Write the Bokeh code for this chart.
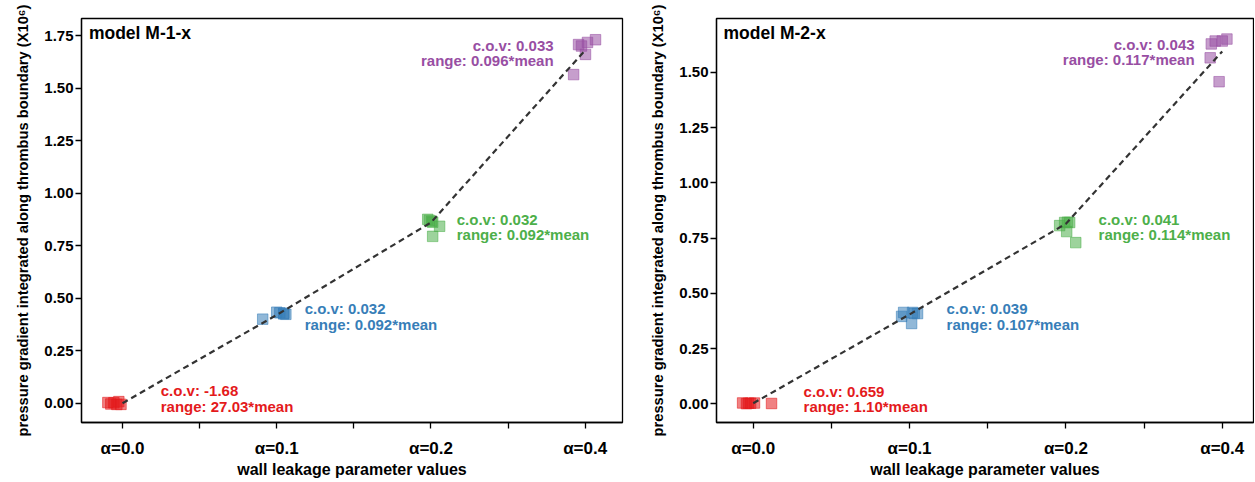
from bokeh.plotting import figure
from bokeh.layouts import row
from bokeh.models import FixedTicker, Range1d, PrintfTickFormatter
from bokeh.embed import file_html
from bokeh.resources import INLINE
from bokeh.core.properties import value

FONT = "Liberation Sans"

categories = ["α=0.0", "α=0.1", "α=0.2", "α=0.4"]
colors = ["#e41a1c", "#377eb8", "#4daf4a", "#984ea3"]
x_label = "wall leakage parameter values"
y_label = "pressure gradient integrated along thrombus boundary (X10⁶)"

# ---- model M-1-x : jitter offsets (around category) and values (x10^6)
m1_title = "model M-1-x"
m1_jitter = [
    [-0.095, -0.076, -0.056, -0.037, -0.024, -0.010],
    [-0.091, 0.000, 0.046, 0.059, 0.020, 0.045],
    [-0.021, 0.011, 0.056, 0.011, -0.010, 0.005],
    [-0.043, -0.024, 0.015, 0.067, 0.002, -0.075],
]
m1_values = [
    [0.003, -0.004, 0.002, -0.006, 0.0075, -0.0058],
    [0.400, 0.433, 0.428, 0.423, 0.430, 0.425],
    [0.875, 0.861, 0.842, 0.794, 0.870, 0.866],
    [1.707, 1.700, 1.717, 1.730, 1.660, 1.564],
]
m1_trend = [0.0, 0.42, 0.86, 1.68]
m1_cov = ["-1.68", "0.032", "0.032", "0.033"]
m1_range = ["27.03", "0.092", "0.092", "0.096"]
m1_yticks = [0.0, 0.25, 0.5, 0.75, 1.0, 1.25, 1.5, 1.75]

# ---- model M-2-x
m2_title = "model M-2-x"
m2_jitter = [
    [-0.068, -0.043, -0.017, 0.008, 0.117, -0.030],
    [-0.051, -0.038, 0.019, 0.051, 0.013, 0.030],
    [-0.040, -0.008, 0.024, 0.005, 0.063, 0.010],
    [-0.070, -0.045, 0.000, 0.030, -0.077, -0.020],
]
m2_values = [
    [0.0045, 0.0012, 0.0030, 0.0040, 0.0020, 0.0033],
    [0.396, 0.414, 0.414, 0.409, 0.364, 0.410],
    [0.807, 0.821, 0.821, 0.780, 0.730, 0.822],
    [1.629, 1.642, 1.642, 1.651, 1.566, 1.458],
]
m2_trend = [0.003, 0.405, 0.815, 1.595]
m2_cov = ["0.659", "0.039", "0.041", "0.043"]
m2_range = ["1.10", "0.107", "0.114", "0.117"]
m2_yticks = [0.0, 0.25, 0.5, 0.75, 1.0, 1.25, 1.5]


def build(title, jitter, vals, trend, covs, ranges, yticks,
          xr, yr, ann, title_pos, border_left, frame_w, border_right):
    p = figure(frame_width=frame_w, frame_height=404,
               min_border_left=border_left, min_border_right=border_right,
               min_border_top=18, min_border_bottom=58,
               x_range=Range1d(*xr), y_range=Range1d(*yr),
               output_backend="svg", toolbar_location=None)
    p.xgrid.visible = False
    p.ygrid.visible = False
    p.outline_line_color = "black"
    p.outline_line_width = 1.3
    p.outline_line_alpha = 1.0
    p.background_fill_color = "white"
    p.border_fill_color = "white"

    # x axis
    ax = p.xaxis[0]
    ax.ticker = FixedTicker(ticks=list(range(len(categories))),
                            minor_ticks=[0.5, 1.5, 2.5])
    ax.major_label_overrides = {i: c for i, c in enumerate(categories)}
    ax.axis_label = x_label
    # y axis
    ay = p.yaxis[0]
    ay.ticker = FixedTicker(ticks=yticks, minor_ticks=[])
    ay.formatter = PrintfTickFormatter(format="%.2f")
    ay.axis_label = y_label
    for a in (ax, ay):
        a.axis_line_color = "black"
        a.axis_line_width = 1.3
        a.major_tick_line_color = "black"
        a.major_tick_line_width = 1.3
        a.minor_tick_line_color = "black"
        a.minor_tick_line_width = 1.3
        a.major_tick_out = 6
        a.major_tick_in = 0
        a.minor_tick_out = 6
        a.minor_tick_in = 0
        a.major_label_text_font = FONT
        a.major_label_text_font_style = "bold"
        a.major_label_text_color = "black"
        a.axis_label_text_font = FONT
        a.axis_label_text_font_style = "bold"
        a.axis_label_text_color = "black"
    ax.major_label_text_font_size = "17px"
    ax.major_label_standoff = 10
    ax.axis_label_text_font_size = "16px"
    ax.axis_label_standoff = 0
    ay.major_label_text_font_size = "15px"
    ay.major_label_standoff = 2
    ay.axis_label_text_font_size = "14.7px"
    ay.axis_label_standoff = 10

    # scatter squares
    for i, (jx, vy) in enumerate(zip(jitter, vals)):
        xs = [i + d for d in jx]
        p.scatter(x=xs, y=vy, marker="square", size=10.5,
                  fill_color=colors[i], fill_alpha=0.55,
                  line_color=colors[i], line_alpha=0.55, line_width=1)

    # dashed trend through group means
    cx = list(range(len(categories)))
    if hasattr(p, "spline"):
        p.spline(x=cx, y=trend, line_color="#333333", line_width=2.2,
                 line_dash="6 4", tension=0.5)
    else:
        p.line(x=cx, y=trend, line_color="#333333", line_width=2.2,
               line_dash="6 4")

    # annotations
    for i in range(len(categories)):
        axp, ay1, ay2, align = ann[i]
        p.text(x=[axp, axp], y=[ay1, ay2],
               text=["c.o.v: " + covs[i], "range: " + ranges[i] + "*mean"],
               text_font=value(FONT), text_font_size="15px",
               text_font_style="bold", text_color=colors[i],
               text_align=align, text_baseline="middle")

    p.text(x=[title_pos[0]], y=[title_pos[1]], text=[title],
           text_font=value(FONT), text_font_size="17.5px",
           text_font_style="bold", text_color="black",
           text_align="left", text_baseline="middle")
    return p


m1_ann = [(0.248, 0.060, -0.016, "left"),
          (1.181, 0.450, 0.374, "left"),
          (2.167, 0.873, 0.801, "left"),
          (2.795, 1.704, 1.633, "right")]
m2_ann = [(0.322, 0.057, -0.011, "left"),
          (1.237, 0.432, 0.359, "left"),
          (2.209, 0.834, 0.766, "left"),
          (2.823, 1.625, 1.557, "right")]

p1 = build(m1_title, m1_jitter, m1_values, m1_trend, m1_cov, m1_range,
           m1_yticks, (-0.266, 3.242), (-0.092, 1.831), m1_ann,
           (-0.218, 1.761), 81, 541, 10)
p2 = build(m2_title, m2_jitter, m2_values, m2_trend, m2_cov, m2_range,
           m2_yticks, (-0.235, 3.20), (-0.084, 1.744), m2_ann,
           (-0.19, 1.679), 84, 537, 1)

layout = row(p1, p2)
open("out.html", "w").write(file_html(layout, INLINE))
